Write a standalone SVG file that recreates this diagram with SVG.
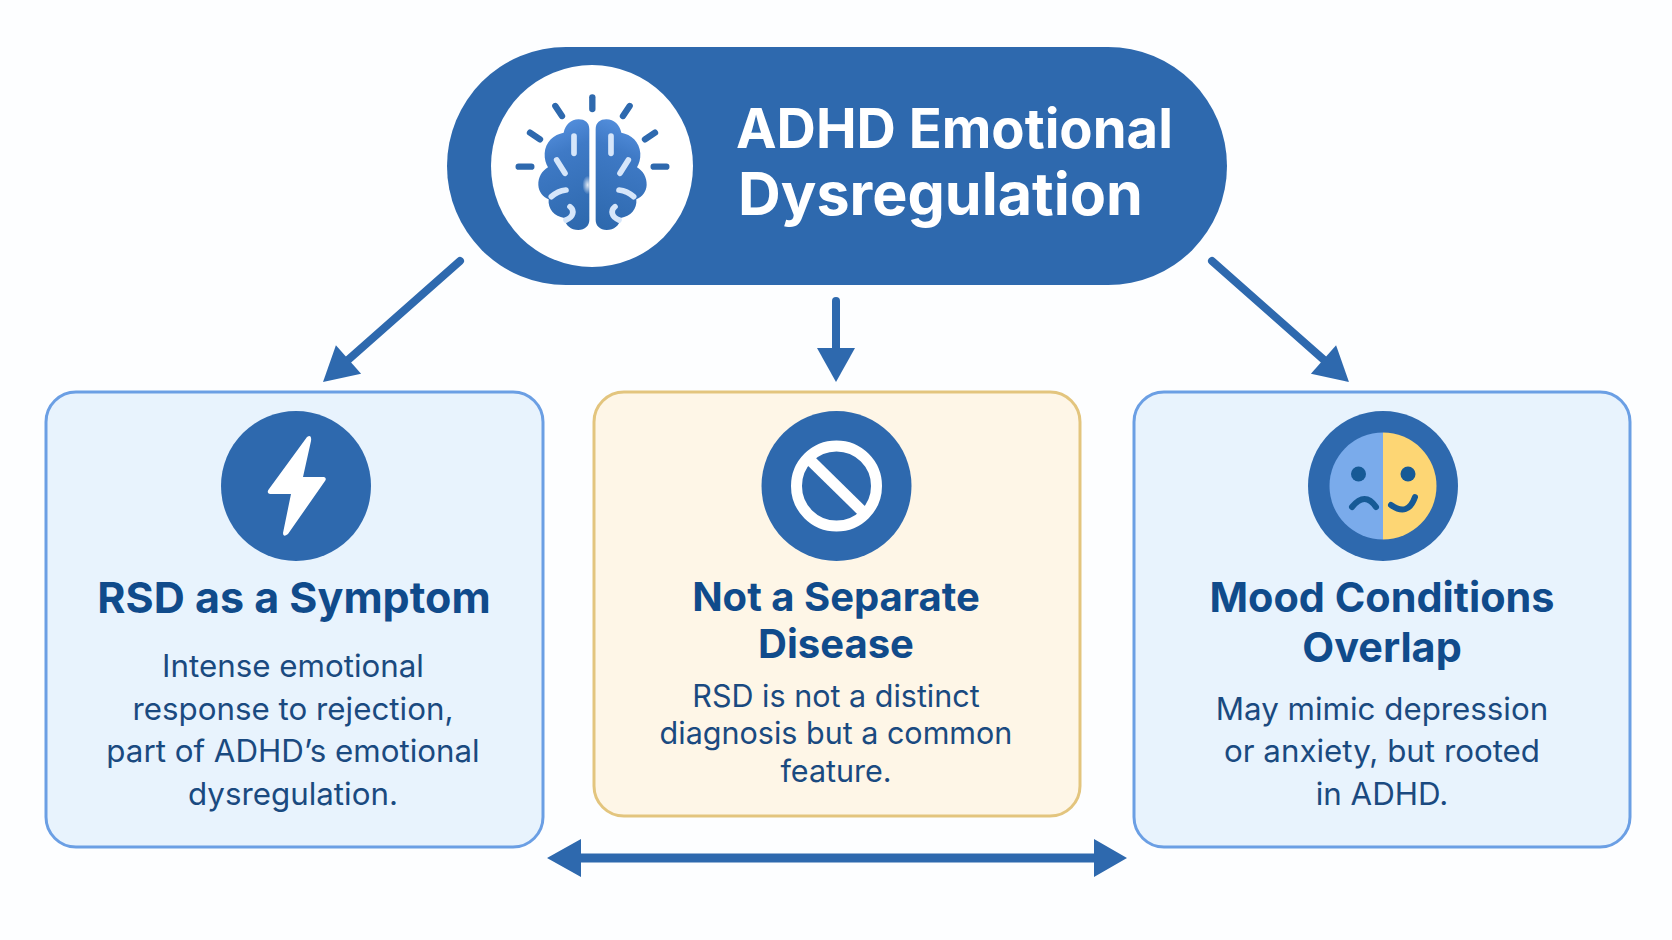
<svg xmlns="http://www.w3.org/2000/svg" width="1672" height="940" viewBox="0 0 1672 940">
<style>
text{font-family:Inter,"Liberation Sans",sans-serif;text-anchor:middle}
.t{font-weight:700;fill:#104b8b}
.b{font-size:31.300px;font-weight:400;fill:#1a4a80}
.m{font-size:30.500px;font-weight:400;fill:#1a4a80}
.h{font-weight:700;fill:#fff;text-anchor:start}
.card{fill:#e8f3fd;stroke:#6b9fe4;stroke-width:3}
.warn{fill:#fef6e7;stroke:#e3c57e;stroke-width:3}
.disc{fill:#2e69ae}
.line{fill:none;stroke:#2e69ae;stroke-width:8;stroke-linecap:round}
.ray{fill:none;stroke:#2e69ae;stroke-width:19;stroke-linecap:round}
.fold{fill:none;stroke:#d6e6fa;stroke-width:17;stroke-linecap:round}
.feat{fill:none;stroke:#165a96;stroke-width:6;stroke-linecap:round}
</style>
<defs>
<marker id="ah" markerUnits="userSpaceOnUse" markerWidth="40" markerHeight="40" refX="1" refY="20" orient="auto"><path d="M1 1L35 20L1 39Z" fill="#2e69ae"/></marker>
<linearGradient id="bg" x1=".5" y1="0" x2=".7" y2="1"><stop offset="0" stop-color="#5590de"/><stop offset=".28" stop-color="#3f7ac6"/><stop offset="1" stop-color="#2e69ae"/></linearGradient>
<radialGradient id="glow"><stop offset="0" stop-color="#fff" stop-opacity=".85"/><stop offset="1" stop-color="#fff" stop-opacity="0"/></radialGradient>
<g id="half">
<path fill="url(#bg)" d="M208 58C208 38 195 28 176 28C152 28 136 45 131 68C102 73 76 95 74 130C73 148 78 162 84 172C66 182 54 203 55 225C56 245 68 260 86 268C83 297 103 320 133 324C136 347 153 360 175 360C195 360 208 347 208 330Z"/>
<path class="fold" d="M162 78V130M110 150L135 190M94 260C105 250 120 242 138 240M150 290C165 302 160 322 138 330"/>
<path class="ray" d="M106 -12L126 18M30 68L60 88M-4 170H34"/>
</g>
</defs>
<rect width="1672" height="940" fill="#fdfeff"/>
<g id="connectors">
<path class="line" d="M460 261L348.500 359.500" marker-end="url(#ah)"/>
<path class="line" d="M836 301V348" marker-end="url(#ah)"/>
<path class="line" d="M1212 261L1323.500 359.500" marker-end="url(#ah)"/>
<g id="both-ways"><rect x="578" y="853.500" width="520" height="9" fill="#2e69ae"/><path d="M547 858L581 839V877ZM1127 858L1094 839V877Z" fill="#2e69ae"/></g>
</g>
<g id="node-main">
<rect x="447" y="47" width="780" height="238" rx="119" fill="#2e69ae"/>
<circle cx="592" cy="166" r="101" fill="#fff"/>
<g transform="translate(520 110) scale(.3333)">
<use href="#half"/>
<use href="#half" transform="translate(435 0) scale(-1 1)"/>
<path class="ray" d="M217 -38V-3"/>
<ellipse cx="203" cy="225" rx="16" ry="28" fill="url(#glow)"/>
</g>
<text class="h" x="736" y="148" style="font-size:54.400px">ADHD Emotional</text>
<text class="h" x="738" y="215" style="font-size:59.200px">Dysregulation</text>
</g>
<g id="node-rsd">
<rect class="card" x="46" y="392" width="497" height="455" rx="30"/>
<circle class="disc" cx="296" cy="486" r="75"/>
<path d="M307 437Q312 434 311 441L303 477H324Q327 478 325 481L288 534Q283 538 283 533L291 494H270Q266 493 269 489Z" fill="#fff"/>
<text class="t" x="294" y="613" style="font-size:43px">RSD as a Symptom</text>
<text class="b" x="293" y="677">Intense emotional</text>
<text class="b" x="293" y="720">response to rejection,</text>
<text class="b" x="293" y="762">part of ADHD’s emotional</text>
<text class="b" x="293" y="805">dysregulation.</text>
</g>
<g id="node-disease">
<rect class="warn" x="594" y="392" width="486" height="424" rx="30"/>
<circle class="disc" cx="836.500" cy="486" r="75"/>
<circle cx="836.500" cy="486" r="40" fill="none" stroke="#fff" stroke-width="11"/>
<path d="M809 459L864 513" stroke="#fff" stroke-width="11" fill="none"/>
<text class="t" x="836" y="611" style="font-size:40px">Not a Separate</text>
<text class="t" x="836" y="658" style="font-size:40px">Disease</text>
<text class="m" x="836" y="707">RSD is not a distinct</text>
<text class="m" x="836" y="744">diagnosis but a common</text>
<text class="m" x="836" y="782">feature.</text>
</g>
<g id="node-mood">
<rect class="card" x="1134" y="392" width="496" height="455" rx="30"/>
<circle class="disc" cx="1383" cy="486" r="75"/>
<path d="M1383 432.500A53.500 53.500 0 0 0 1383 539.500Z" fill="#7aabeb"/>
<path d="M1383 432.500A53.500 53.500 0 0 1 1383 539.500Z" fill="#fdd674"/>
<circle cx="1358.500" cy="474" r="7.500" fill="#165a96"/>
<circle cx="1408" cy="474" r="7.500" fill="#165a96"/>
<path class="feat" d="M1352 507Q1365 491 1376 507"/>
<path class="feat" d="M1391 505Q1408 517 1415 497"/>
<text class="t" x="1382" y="612" style="font-size:41.400px">Mood Conditions</text>
<text class="t" x="1382" y="662" style="font-size:41.400px">Overlap</text>
<text class="b" x="1382" y="720">May mimic depression</text>
<text class="b" x="1382" y="762">or anxiety, but rooted</text>
<text class="b" x="1382" y="805">in ADHD.</text>
</g>
</svg>
